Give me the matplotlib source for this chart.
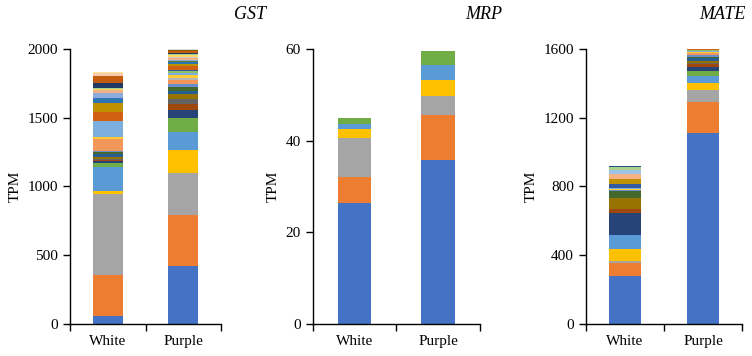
import matplotlib.pyplot as plt

plt.rcParams['font.family'] = ['Liberation Serif', 'DejaVu Serif']

categories = ["White", "Purple"]

# Excel-like series colours (series order, bottom to top)
palette = ["#4472C4", "#ED7D31", "#A5A5A5", "#FFC000", "#5B9BD5", "#70AD47",
           "#264478", "#9E480E", "#636363", "#997300", "#255E91", "#43682B",
           "#698ED0", "#F1975A", "#B7B7B7", "#FFCD33", "#7CAFDD", "#8CC168",
           "#335AA1", "#D26012", "#7C7C7C", "#BF9000", "#2E75B6", "#548235",
           "#8FAADC", "#F4B183", "#C9C9C9", "#FFD966", "#9DC3E6", "#A9D18E",
           "#203864", "#C55A11", "#525252", "#7F6000", "#1F4E79", "#385723",
           "#B4C7E7", "#F8CBAD", "#DBDBDB", "#FFE699", "#BDD7EE", "#C5E0B4",
           "#4472C4"]

# GST
gst_white = [58, 298, 589, 20, 175, 33, 10, 12, 8, 14, 16, 15,
             10, 85, 0, 15, 118, 0, 3, 65, 0, 66, 31, 0,
             37, 22, 5, 4, 0, 10, 36, 45, 3, 0, 0, 2,
             0, 18, 3, 5, 0, 0, 4]
gst_purple = [422, 371, 307, 165, 129, 104, 58, 44, 36, 37, 24, 29,
              19, 30, 12, 26, 15, 15, 5, 25, 5, 12, 15, 8,
              10, 12, 10, 8, 6, 5, 8, 10, 3, 4, 0, 0,
              0, 5, 3, 3, 0, 0, 0]

# MRP
mrp_white = [26.3, 5.8, 8.4, 2.0, 1.1, 1.4]
mrp_purple = [35.8, 9.9, 4.1, 3.4, 3.3, 3.1]

# MATE
mate_white = [280, 74, 14, 68, 84, 0, 126, 24, 0, 64, 0, 37,
              6, 0, 0, 10, 6, 0, 19, 0, 0, 29, 0, 0,
              0, 33, 0, 0, 22, 15, 0, 0, 0, 0, 8, 0,
              0, 0, 0, 0, 0, 0, 0]
mate_purple = [1113, 176, 72, 39, 41, 29, 25, 19, 3, 14, 19, 4,
               10, 10, 3, 8, 4, 3, 3, 4, 0, 1, 0, 0]

panels = [
    ("GST", gst_white, gst_purple, 2000, 500, [0.093, 0.0899, 0.201, 0.7725]),
    ("MRP", mrp_white, mrp_purple, 60, 20, [0.416, 0.0899, 0.222, 0.7725]),
    ("MATE", mate_white, mate_purple, 1600, 400, [0.779, 0.0899, 0.208, 0.7725]),
]
title_x = [0.332, 0.643, 0.960]

fig = plt.figure(figsize=(7.52, 3.56), dpi=100)

for (name, white, purple, ymax, step, rect), tx in zip(panels, title_x):
    ax = fig.add_axes(rect)
    n = max(len(white), len(purple))
    white = list(white) + [0] * (n - len(white))
    purple = list(purple) + [0] * (n - len(purple))
    bw = 0
    bp = 0
    for i in range(n):
        c = palette[i % len(palette)]
        ax.bar([0, 1], [white[i], purple[i]], bottom=[bw, bp], width=0.4,
               color=c, linewidth=0)
        bw += white[i]
        bp += purple[i]
    ax.set_xlim(-0.5, 1.5)
    ax.set_ylim(0, ymax)
    ax.set_yticks(range(0, ymax + 1, step))
    ax.set_xticks([0, 1])
    ax.set_xticklabels(categories, fontsize=11)
    ax.set_xticks([-0.5, 0.5, 1.5], minor=True)
    ax.tick_params(axis='x', which='major', length=0, pad=8)
    ax.tick_params(axis='x', which='minor', length=5, width=1)
    ax.tick_params(axis='y', labelsize=11, length=5, width=1)
    for s in ["top", "right"]:
        ax.spines[s].set_visible(False)
    ax.spines["left"].set_linewidth(1)
    ax.spines["bottom"].set_linewidth(1)
    ax.set_ylabel("TPM", fontsize=11)
    fig.text(tx, 0.958, name, fontsize=13, style='italic', ha='center', va='center')

plt.savefig('out.png', dpi=100)
